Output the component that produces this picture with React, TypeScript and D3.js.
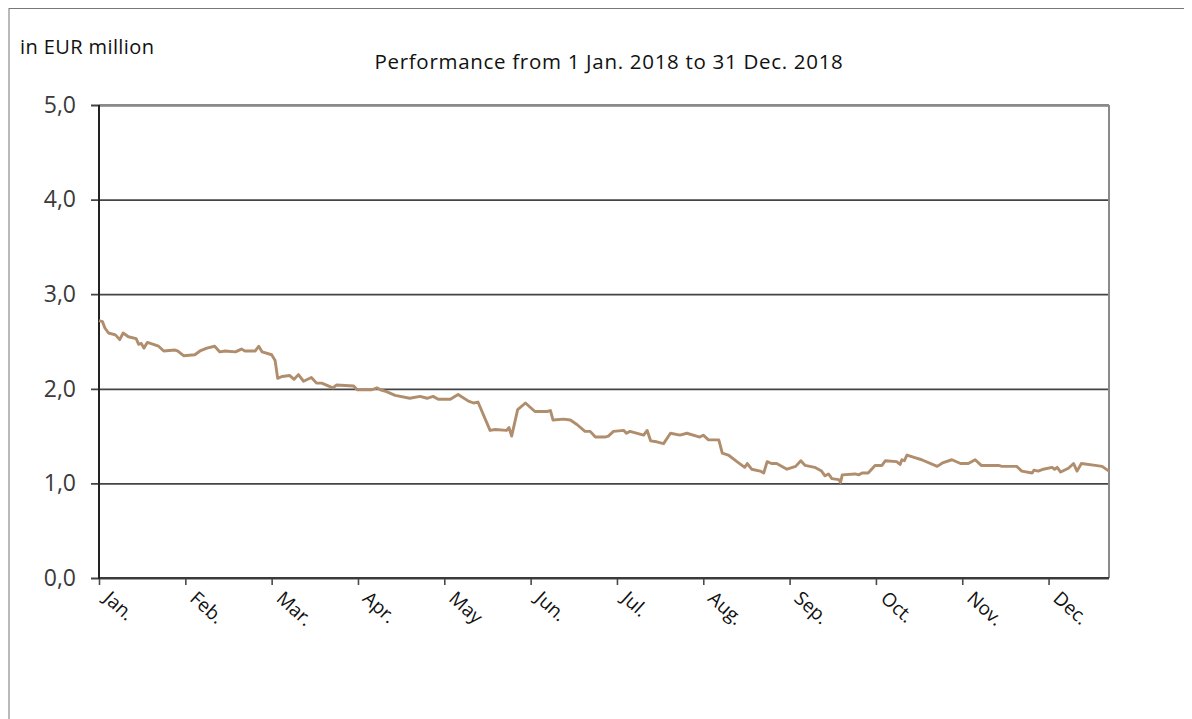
import { useEffect, useRef } from "react";
import * as d3 from "d3";

const WIDTH = 1184;
const HEIGHT = 711;
const MARGIN = { top: 97, right: 83, bottom: 141, left: 91 };

const TITLE = "Performance from 1 Jan. 2018 to 31 Dec. 2018";
const UNIT_LABEL = "in EUR million";

const MONTHS = ["Jan.", "Feb.", "Mar.", "Apr.", "May", "Jun.", "Jul.", "Aug.", "Sep.", "Oct.", "Nov.", "Dec."];
const Y_TICKS = [0, 1, 2, 3, 4, 5];
const X_END = 11.7; // month position of the right edge (31 Dec.)

// position in months since 1 Jan. (month ticks at 0..11)
const POS = [
  0.0, 0.04, 0.07, 0.11, 0.19, 0.24, 0.28, 0.34, 0.43, 0.46, 0.49, 0.52, 0.56, 0.63, 0.69, 0.75,
  0.88, 0.91, 0.98, 1.11, 1.17, 1.25, 1.34, 1.4, 1.46, 1.58, 1.65, 1.69, 1.81, 1.85, 1.89, 2.0,
  2.04, 2.07, 2.12, 2.21, 2.26, 2.31, 2.37, 2.46, 2.52, 2.58, 2.71, 2.75, 2.95, 2.99, 3.16, 3.22,
  3.26, 3.33, 3.43, 3.6, 3.72, 3.8, 3.87, 3.93, 4.07, 4.16, 4.28, 4.34, 4.39, 4.53, 4.59, 4.72,
  4.75, 4.78, 4.85, 4.94, 5.05, 5.19, 5.23, 5.26, 5.38, 5.46, 5.54, 5.63, 5.69, 5.75, 5.86, 5.9,
  5.96, 6.08, 6.11, 6.15, 6.31, 6.35, 6.39, 6.46, 6.54, 6.62, 6.73, 6.81, 6.96, 7.0, 7.06, 7.18,
  7.22, 7.29, 7.39, 7.48, 7.51, 7.56, 7.66, 7.7, 7.74, 7.79, 7.85, 7.97, 8.07, 8.13, 8.18, 8.29,
  8.37, 8.41, 8.45, 8.49, 8.57, 8.59, 8.61, 8.76, 8.8, 8.84, 8.91, 8.99, 9.07, 9.11, 9.24, 9.28,
  9.3, 9.33, 9.36, 9.46, 9.53, 9.71, 9.78, 9.88, 9.98, 10.07, 10.15, 10.22, 10.42, 10.46, 10.63,
  10.69, 10.81, 10.83, 10.88, 10.94, 11.04, 11.07, 11.1, 11.14, 11.23, 11.29, 11.33, 11.38, 11.54,
  11.62, 11.7,
];

// value in EUR million
const VALUES = [
  2.72, 2.71, 2.64, 2.59, 2.57, 2.52, 2.59, 2.55, 2.53, 2.47, 2.48, 2.43, 2.49, 2.47, 2.45, 2.4,
  2.41, 2.4, 2.35, 2.36, 2.4, 2.43, 2.45, 2.39, 2.4, 2.39, 2.42, 2.4, 2.4, 2.45, 2.39, 2.36,
  2.3, 2.11, 2.13, 2.14, 2.1, 2.15, 2.08, 2.12, 2.06, 2.06, 2.01, 2.04, 2.03, 1.99, 1.99, 2.01,
  1.99, 1.97, 1.93, 1.9, 1.92, 1.9, 1.92, 1.89, 1.89, 1.94, 1.87, 1.85, 1.86, 1.56, 1.57, 1.56,
  1.59, 1.5, 1.78, 1.85, 1.76, 1.76, 1.77, 1.67, 1.68, 1.67, 1.62, 1.55, 1.55, 1.49, 1.49, 1.5,
  1.55, 1.56, 1.53, 1.55, 1.51, 1.56, 1.45, 1.44, 1.42, 1.53, 1.51, 1.53, 1.49, 1.51, 1.46, 1.46,
  1.32, 1.3, 1.23, 1.17, 1.21, 1.15, 1.13, 1.11, 1.23, 1.21, 1.21, 1.15, 1.18, 1.24, 1.19, 1.17,
  1.13, 1.08, 1.1, 1.05, 1.04, 1.01, 1.09, 1.1, 1.09, 1.11, 1.11, 1.19, 1.19, 1.24, 1.23, 1.2,
  1.25, 1.24, 1.3, 1.27, 1.25, 1.18, 1.22, 1.25, 1.21, 1.21, 1.25, 1.19, 1.19, 1.18, 1.18,
  1.13, 1.11, 1.14, 1.13, 1.15, 1.17, 1.15, 1.17, 1.12, 1.16, 1.21, 1.13, 1.21, 1.19,
  1.18, 1.13,
];

const FONT = "'Open Sans', 'Noto Sans', sans-serif";

export default function App() {
  const axesRef = useRef<SVGGElement>(null);
  const boundsWidth = WIDTH - MARGIN.left - MARGIN.right;
  const boundsHeight = HEIGHT - MARGIN.top - MARGIN.bottom;

  const xScale = d3.scaleLinear().domain([0, X_END]).range([0, boundsWidth]);
  const yScale = d3.scaleLinear().domain([0, 5]).range([boundsHeight, 0]);

  const data = POS.map((p, i) => ({ p, v: VALUES[i] }));
  const linePath = d3
    .line<{ p: number; v: number }>()
    .x((d) => xScale(d.p))
    .y((d) => yScale(d.v))(data);

  useEffect(() => {
    const g = d3.select(axesRef.current);
    g.selectAll("*").remove();

    // y axis with gridlines
    const yAxis = d3
      .axisLeft(yScale)
      .tickValues(Y_TICKS)
      .tickSize(-boundsWidth - 8)
      .tickSizeOuter(0)
      .tickPadding(15)
      .tickFormat((d) => d3.format(".1f")(d as number).replace(".", ","));
    const ya = g.append("g").attr("transform", "translate(-8,0)").call(yAxis);
    ya.select(".domain").remove();
    ya.selectAll(".tick line").attr("stroke", "#444").attr("stroke-width", 1.8);
    ya.selectAll(".tick text")
      .attr("font-family", FONT)
      .attr("font-size", 23)
      .attr("fill", "#3a3a3a");

    // x axis ticks
    const xAxis = d3
      .axisBottom(xScale)
      .tickValues(d3.range(MONTHS.length))
      .tickSize(7)
      .tickSizeOuter(0)
      .tickFormat((d) => MONTHS[d as number]);
    const xa = g.append("g").attr("transform", `translate(0,${boundsHeight})`).call(xAxis);
    xa.select(".domain").remove();
    xa.selectAll(".tick line").attr("stroke", "#4a4a4a").attr("stroke-width", 1.6);
    xa.selectAll(".tick text")
      .attr("font-family", FONT)
      .attr("font-size", 19)
      .attr("fill", "#111")
      .attr("text-anchor", "start")
      .attr("dy", 0)
      .attr("y", 0)
      .attr("transform", "translate(3,22) rotate(42)");

    // frame: top/right gray, left/bottom dark
    g.append("line")
      .attr("x1", 0).attr("x2", boundsWidth).attr("y1", 0).attr("y2", 0)
      .attr("stroke", "#8a8a8a").attr("stroke-width", 2);
    g.append("line")
      .attr("x1", boundsWidth).attr("x2", boundsWidth).attr("y1", 0).attr("y2", boundsHeight)
      .attr("stroke", "#8a8a8a").attr("stroke-width", 2);
    g.append("line")
      .attr("x1", 0).attr("x2", boundsWidth).attr("y1", boundsHeight).attr("y2", boundsHeight)
      .attr("stroke", "#3a3a3a").attr("stroke-width", 2);
    g.append("line")
      .attr("x1", 0).attr("x2", 0).attr("y1", 0).attr("y2", boundsHeight + 1)
      .attr("stroke", "#222").attr("stroke-width", 2);
  }, [xScale, yScale, boundsWidth, boundsHeight]);

  return (
    <svg width={WIDTH} height={HEIGHT} style={{ display: "block" }}>
      <rect x={1} y={0.5} width={WIDTH + 20} height={HEIGHT + 20} fill="#fff" stroke="#777" strokeWidth={1} />
      <text x={12} y={46} fontFamily={FONT} fontSize={20} letterSpacing={0.4} fill="#111">
        {UNIT_LABEL}
      </text>
      <text x={601} y={61} textAnchor="middle" fontFamily={FONT} fontSize={20.5} letterSpacing={0.7} fill="#111">
        {TITLE}
      </text>
      <g transform={`translate(${MARGIN.left},${MARGIN.top})`}>
        <g ref={axesRef} />
        <path d={linePath ?? ""} fill="none" stroke="#b08d6c" strokeWidth={2.9} strokeLinejoin="round" />
      </g>
    </svg>
  );
}
